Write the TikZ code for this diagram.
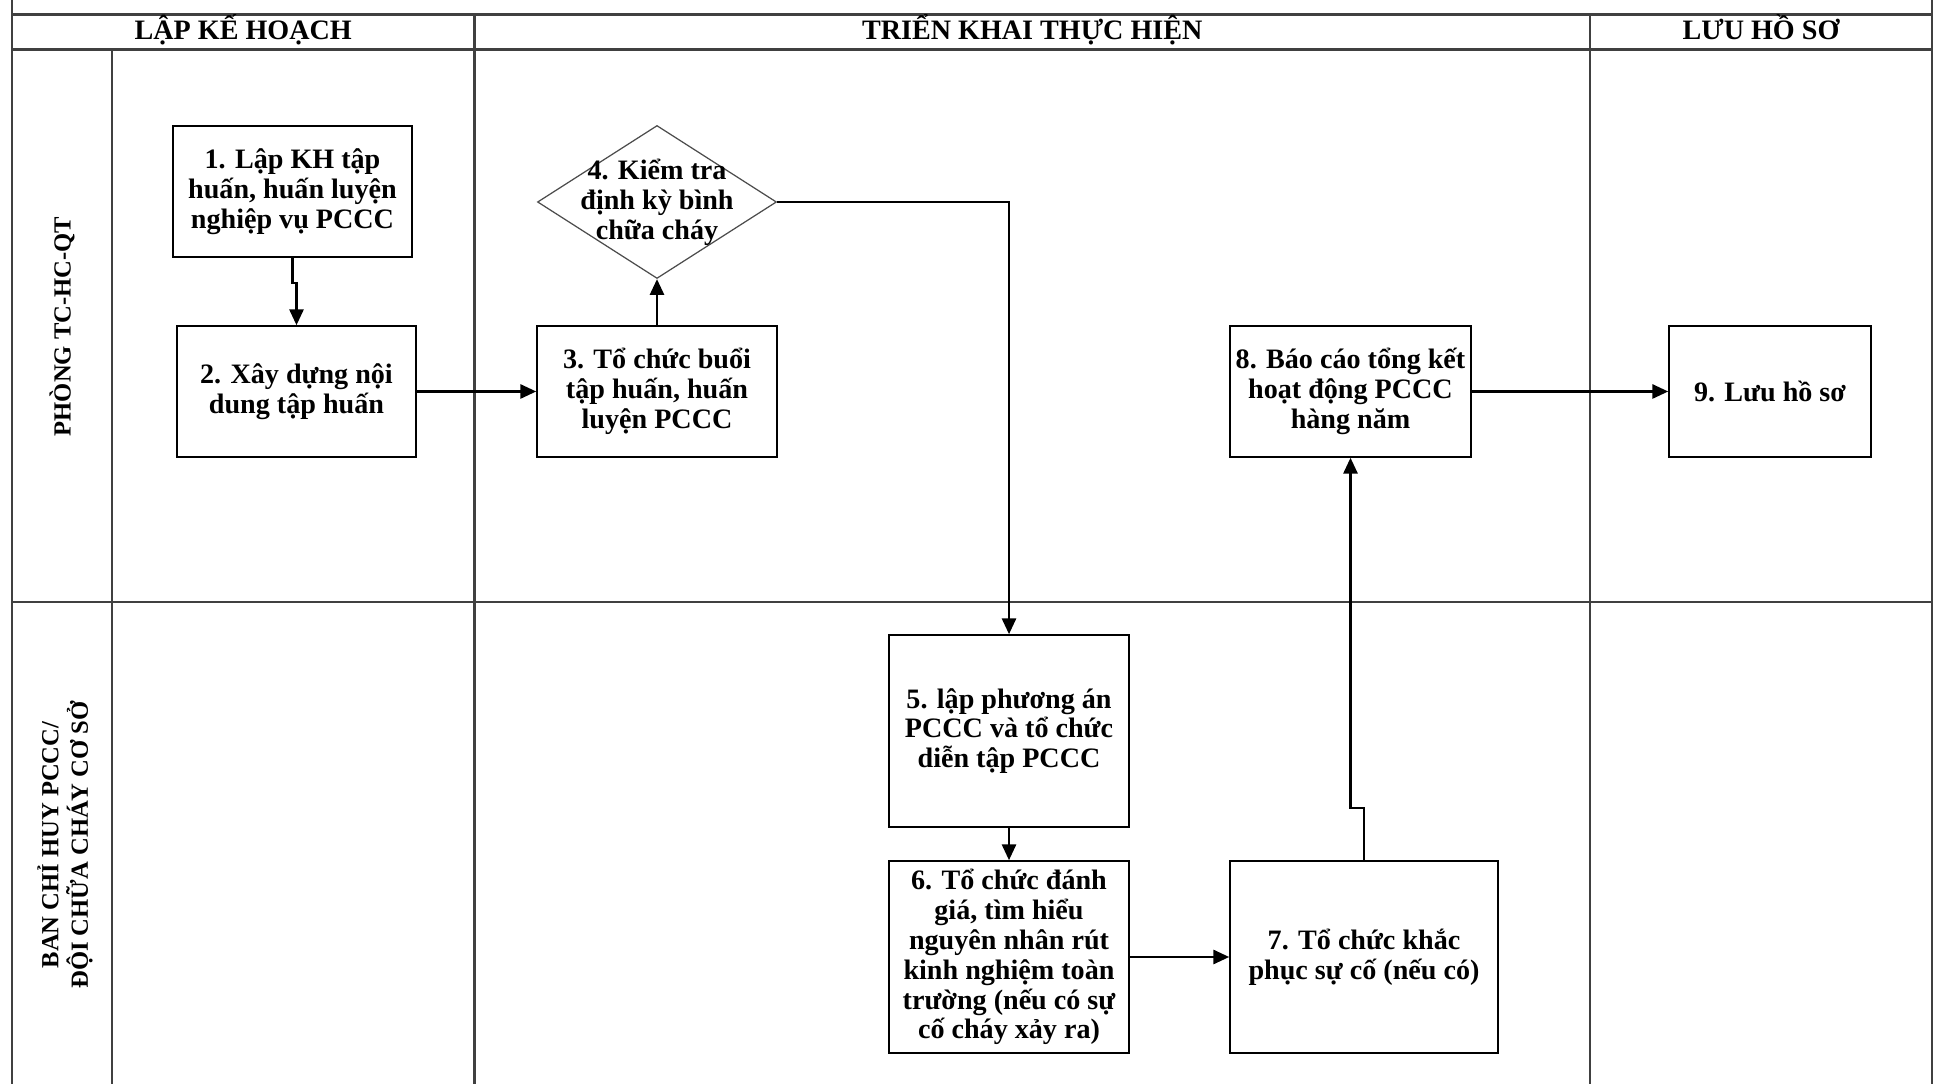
\documentclass[tikz,border=0pt]{standalone}
\usepackage{fontspec}
\setmainfont{Liberation Serif}
\usetikzlibrary{arrows.meta,shapes.geometric,shadows}
\begin{document}
\begin{tikzpicture}[
    laneline/.style={line width=1.5pt,draw=black!75},
    box/.style={draw,line width=0.9pt,fill=white,align=center,inner sep=1pt,
        font=\bfseries\fontsize{16}{17}\selectfont,
        drop shadow={opacity=0.2,shadow xshift=0.7pt,shadow yshift=-0.7pt}},
    dia/.style={draw=black!70,line width=0.7pt,shape=diamond,fill=white,inner sep=0pt,
        minimum width=4.78cm,minimum height=3.06cm},
    txt/.style={align=center,font=\bfseries\fontsize{16}{17}\selectfont},
    head/.style={font=\bfseries\fontsize{16}{18}\selectfont,text height=11pt,text depth=3pt},
    lane/.style={font=\bfseries\fontsize{14}{16.8}\selectfont,align=center,rotate=90},
    arr/.style={line width=1.4pt,-{Triangle[length=9pt,width=8pt]}}
  ]
                                     \useasboundingbox (0,0) rectangle (38.72,21.68);
                                     \draw[laneline] (0.24,21.68) -- (0.24,0) (38.64,21.68) -- (38.64,0);
                                     \foreach \Y in {21.386,20.694,9.64}
                                     \draw[laneline] (0.24,\Y) -- (38.64,\Y);
                                     \foreach \X in {9.49,31.8}
                                     \draw[laneline] (\X,21.386) -- (\X,0);
                                     \draw[laneline] (2.24,20.694) -- (2.24,0);
                                     \node[head] (h1) at (4.865,21.04) {LẬP KẾ HOẠCH};
                                     \node[head] (h2) at (20.645,21.04) {TRIỂN KHAI THỰC HIỆN};
                                     \node[head] (h3) at (35.22,21.04) {LƯU HỒ SƠ};
                                     \node[lane] (l1) at (1.24,15.15) {PHÒNG TC-HC-QT};
                                     \node[lane] (l2) at (1.3,4.78) {BAN CHỈ HUY PCCC/\\ĐỘI CHỮA CHÁY CƠ SỞ};
                                     \node[box,minimum width=4.78cm,minimum height=2.62cm] (n1) at (5.85,17.85) {1. Lập KH tập\\huấn, huấn luyện\\nghiệp vụ PCCC};
                                     \node[box,minimum width=4.78cm,minimum height=2.62cm] (n2) at (5.93,13.85) {2. Xây dựng nội\\dung tập huấn};
                                     \node[box,minimum width=4.8cm,minimum height=2.62cm] (n3) at (13.14,13.85) {3. Tổ chức buổi\\tập huấn, huấn\\luyện PCCC};
                                     \node[dia] (n4) at (13.14,17.64) {};
                                     \node[txt] (t4) at (n4) {4. Kiểm tra\\định kỳ bình\\chữa cháy};
                                     \node[box,minimum width=4.8cm,minimum height=3.84cm] (n5) at (20.18,7.06) {5. lập phương án\\PCCC và tổ chức\\diễn tập PCCC};
                                     \node[box,minimum width=4.8cm,minimum height=3.84cm] (n6) at (20.18,2.54) {6. Tổ chức đánh\\giá, tìm hiểu\\nguyên nhân rút\\kinh nghiệm toàn\\trường (nếu có sự\\cố cháy xảy ra)};
                                     \node[box,minimum width=5.36cm,minimum height=3.84cm] (n7) at (27.28,2.54) {7. Tổ chức khắc\\phục sự cố (nếu có)};
                                     \node[box,minimum width=4.82cm,minimum height=2.62cm] (n8) at (27.01,13.85) {8. Báo cáo tổng kết\\hoạt động PCCC\\hàng năm};
                                     \node[box,minimum width=4.04cm,minimum height=2.62cm] (n9) at (35.4,13.85) {9. Lưu hồ sơ};
                                     \draw[arr] (n1.south) -- ++(0,-0.5) -| (n2.north);
                                     \draw[arr] (n2) -- (n3);
                                     \draw[arr] (n3) -- (n4);
                                     \draw[arr] (n4.east) -| (n5.north);
                                     \draw[arr] (n5) -- (n6);
                                     \draw[arr] (n6) -- (n7);
                                     \draw[arr] (n7.north) -- ++(0,1.04) -| (n8.south);
                                     \draw[arr] (n8) -- (n9);
                                 \end{tikzpicture}
\end{document}
